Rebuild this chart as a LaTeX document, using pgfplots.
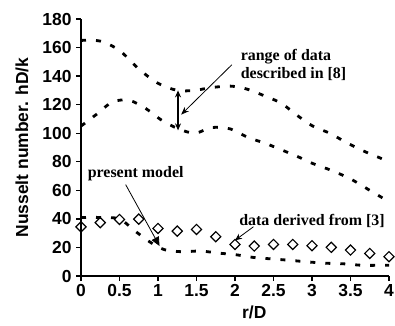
\documentclass[border=0pt]{standalone}
\usepackage{pgfplots}
\pgfplotsset{compat=1.18}
\usepackage{fontspec}
\setmainfont{Liberation Sans}
\newfontfamily\tnr{Liberation Serif}
\usetikzlibrary{arrows.meta,calc}
\begin{document}
\begin{tikzpicture}[x=1bp,y=1bp]
\begin{axis}[
  scale only axis, width=308bp, height=257bp,
  xmin=0, xmax=4, ymin=0, ymax=180,
  axis lines=left, axis line style={-, line width=1.4bp},
  xtick={0,0.5,...,4}, ytick={0,20,...,180},
  xticklabels={0,0.5,1,1.5,2,2.5,3,3.5,4},
  tick align=outside, major tick length=5bp,
  tick style={line width=1.4bp, black},
  /pgf/number format/assume math mode=true,
  ticklabel style={font=\bfseries\fontsize{17.5}{19}\selectfont},
  yticklabel style={xshift=-1bp},
  xlabel={r/D}, ylabel={Nusselt number. hD/k},
  label style={font=\bfseries\fontsize{17.5}{19}\selectfont},
  xlabel style={at={(axis cs:2.25,0)}, anchor=center, yshift=-36bp},
  ylabel style={at={(axis description cs:-0.192,0.5)}, anchor=center},
  clip=false,
]
% upper bound of range [8]
\addplot[black, line width=2.8bp, dash pattern=on 5bp off 10bp, smooth] coordinates {
(0,165) (0.25,164.5) (0.5,158) (0.75,145) (1,135) (1.25,130) (1.47,130) (1.7,132) (1.94,133)
(2.15,131) (2.39,126) (2.6,121) (2.82,112) (3.01,105) (3.23,100) (3.43,94) (3.65,88) (3.87,83) (4,80)};
% lower bound of range [8]
\addplot[black, line width=2.8bp, dash pattern=on 5bp off 10bp, smooth] coordinates {
(0,105) (0.22,114) (0.41,122) (0.63,123) (0.85,117) (1.05,109) (1.27,103) (1.48,100) (1.7,104) (1.94,103)
(2.17,97) (2.39,93) (2.62,88) (2.84,83) (3.0,79) (3.25,74) (3.5,68) (3.75,60) (4,52)};
% present model
\addplot[black, line width=2.8bp, dash pattern=on 5bp off 10bp, smooth] coordinates {
(0,41) (0.25,41) (0.5,40) (0.69,32) (0.89,24) (1.08,18.5) (1.31,17) (1.55,17.5) (1.79,16) (2.0,15)
(2.24,13) (2.47,12) (2.71,11) (2.92,10) (3.16,9) (3.42,8.5) (3.65,7.5) (3.88,7.5) (4,7.5)};
% data derived from [3]
\addplot[only marks, mark=square, mark size=3.6bp, mark options={rotate=45, line width=1.2bp, fill=white}, black] coordinates {
(0,34.4) (0.25,37.4) (0.5,39.6) (0.75,39.8) (1,33.3) (1.25,31.4) (1.5,32.6) (1.75,27.5)
(2,22.1) (2.25,21) (2.5,22.1) (2.75,22.1) (3,21.2) (3.25,20.1) (3.5,18.2) (3.75,15.8) (4,13.5)};
% annotations
\draw[{Stealth[length=7bp,width=6bp]}-{Stealth[length=7bp,width=6bp]}, line width=1.2bp] (axis cs:1.26,130) -- (axis cs:1.26,102);
\draw[-{Stealth[length=8bp,width=6bp]}, line width=0.8bp] (axis cs:1.96,148) -- (axis cs:1.30,113);
\node[anchor=west, align=left, font=\tnr\bfseries\fontsize{16}{18}\selectfont] at (axis cs:2.03,148) {range of data\\described in [8]};
\node[font=\tnr\bfseries\fontsize{16}{18}\selectfont] at (axis cs:0.71,72) {present model};
\draw[-{Triangle[length=9bp,width=8bp]}, line width=0.8bp] (axis cs:0.58,64) -- (axis cs:1.02,21);
\node[font=\tnr\bfseries\fontsize{16}{18}\selectfont] at (axis cs:3.0,38.5) {data derived from [3]};
\draw[-{Stealth[length=7bp,width=6bp]}, line width=0.8bp] (axis cs:2.24,34.5) -- (axis cs:2.0,25);
\coordinate (O) at (rel axis cs:0,0);
\coordinate (E) at (rel axis cs:1,1);
\end{axis}
\pgfresetboundingbox
\path ($(O)+(-81bp,-49bp)$) rectangle ($(E)+(6bp,19bp)$);
\end{tikzpicture}
\end{document}
